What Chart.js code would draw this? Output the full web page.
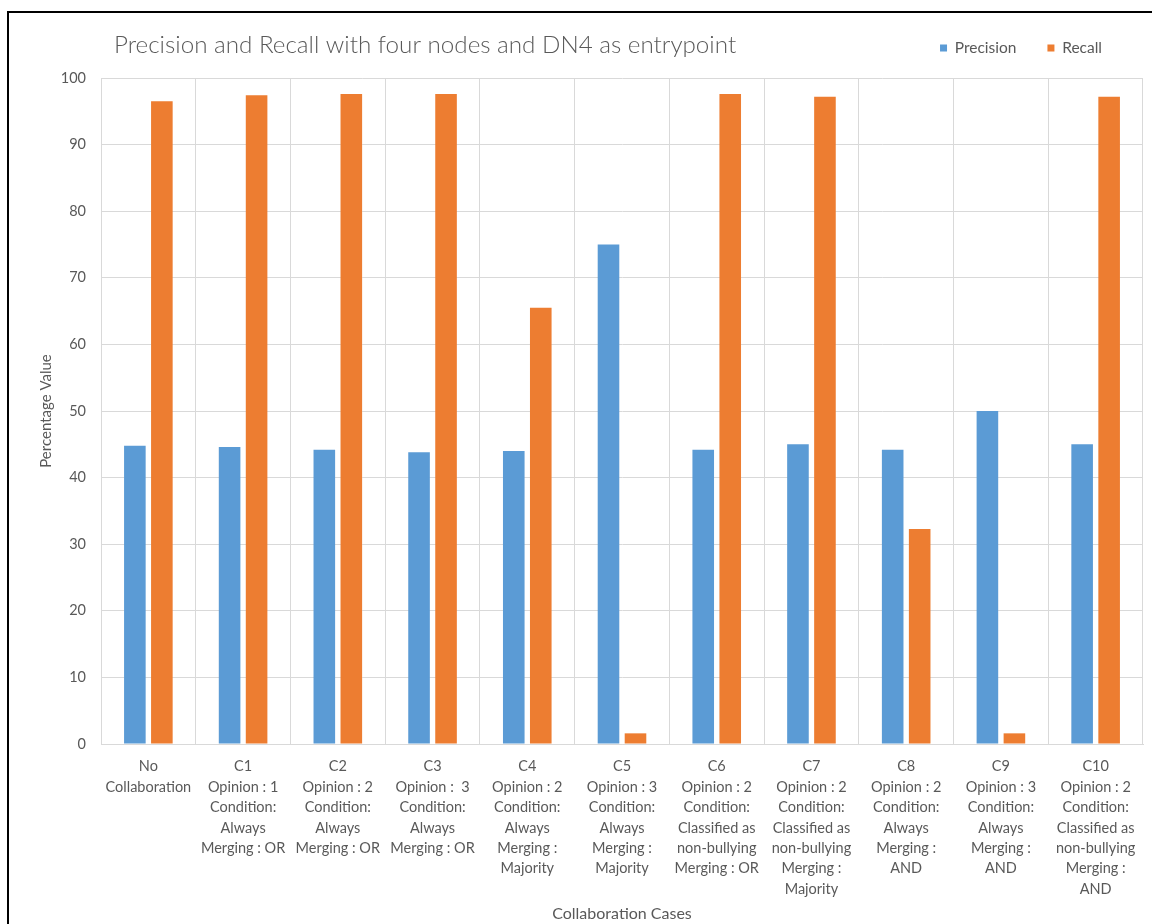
<!DOCTYPE html>
<html>
<head>
<meta charset="utf-8">
<script src="https://cdn.jsdelivr.net/npm/chart.js@4/dist/chart.umd.min.js"></script>
<style>
  html, body { margin: 0; padding: 0; background: #fff; overflow: hidden; }
  #frame { position: absolute; left: 7px; top: 11px; width: 1300px; height: 1100px; border: 2px solid #000; background: #fff; }
  #c { position: absolute; left: 0; top: 0; }
</style>
</head>
<body>
<div id="frame"></div>
<canvas id="c" width="1152" height="924"></canvas>
<script>
const chartTitle = "Precision and Recall with four nodes and DN4 as entrypoint";
const seriesNames = ["Precision", "Recall"];
const categories = [
  ["No", "Collaboration"],
  ["C1", "Opinion : 1", "Condition:", "Always", "Merging : OR"],
  ["C2", "Opinion : 2", "Condition:", "Always", "Merging : OR"],
  ["C3", "Opinion :  3", "Condition:", "Always", "Merging : OR"],
  ["C4", "Opinion : 2", "Condition:", "Always", "Merging :", "Majority"],
  ["C5", "Opinion : 3", "Condition:", "Always", "Merging :", "Majority"],
  ["C6", "Opinion : 2", "Condition:", "Classified as", "non-bullying", "Merging : OR"],
  ["C7", "Opinion : 2", "Condition:", "Classified as", "non-bullying", "Merging :", "Majority"],
  ["C8", "Opinion : 2", "Condition:", "Always", "Merging :", "AND"],
  ["C9", "Opinion : 3", "Condition:", "Always", "Merging :", "AND"],
  ["C10", "Opinion : 2", "Condition:", "Classified as", "non-bullying", "Merging :", "AND"]
];
const precision = [44.8, 44.6, 44.2, 43.8, 44.0, 75.0, 44.2, 45.0, 44.2, 50.0, 45.0];
const recall    = [96.5, 97.4, 97.6, 97.6, 65.5, 1.6, 97.6, 97.2, 32.3, 1.6, 97.2];
const yTicks = [0, 10, 20, 30, 40, 50, 60, 70, 80, 90, 100];
const xAxisTitle = "Collaboration Cases";
const yAxisTitle = "Percentage Value";

const FONT = "Lato";
const TEXT = "#595959";
const GRID = "#D9D9D9";

const titlePlugin = {
  id: 'titleText',
  afterDraw(chart) {
    const ctx = chart.ctx;
    ctx.save();
    ctx.font = '300 24.2px "' + FONT + '"';
    ctx.fillStyle = TEXT;
    ctx.textAlign = 'left';
    ctx.textBaseline = 'middle';
    ctx.fillText(chartTitle, 114, 45);
    ctx.restore();
  }
};

const legendFit = {
  id: 'legendFit',
  beforeLayout(chart) {
    const lg = chart.legend;
    if (lg && !lg._patched) {
      const orig = lg.fit;
      lg.fit = function () { orig.call(this); if (this.options.display) this.height = 68.75; };
      lg._patched = true;
    }
  },
  afterLayout(chart) {
    if (chart.legend) chart.legend.right = chart.width - 19;
  }
};

new Chart(document.getElementById('c'), {
  type: 'bar',
  data: {
    labels: categories,
    datasets: [
      { label: seriesNames[0], data: precision, backgroundColor: '#5B9BD5', borderWidth: 0 },
      { label: seriesNames[1], data: recall, backgroundColor: '#ED7D31', borderWidth: 0 }
    ]
  },
  options: {
    responsive: false,
    animation: false,
    devicePixelRatio: 1,
    layout: { padding: { top: 9.25, left: 0, right: 9, bottom: 0 } },
    datasets: { bar: { categoryPercentage: 0.57, barPercentage: 0.8 } },
    plugins: {
      title: { display: false },
      tooltip: { enabled: false },
      legend: {
        display: true,
        position: 'top',
        align: 'end',
        labels: {
          boxWidth: 7,
          boxHeight: 7,
          padding: 31,
          color: TEXT,
          font: { family: FONT, size: 15.5, lineHeight: 1 }
        }
      }
    },
    scales: {
      x: {
        grid: { color: GRID, lineWidth: 1, drawTicks: false, offset: true },
        border: { color: GRID, width: 1 },
        ticks: {
          color: TEXT,
          font: { family: FONT, size: 14.5, lineHeight: 1.407 },
          padding: 12.5,
          maxRotation: 0,
          minRotation: 0,
          autoSkip: false
        },
        title: {
          display: true,
          text: xAxisTitle,
          color: TEXT,
          font: { family: FONT, size: 16 },
          padding: { top: 0, bottom: 1 }
        },
        afterFit(scale) { scale.height = 180; }
      },
      y: {
        min: 0,
        max: 100,
        afterBuildTicks(scale) { scale.ticks = yTicks.map(v => ({ value: v })); },
        grid: { color: GRID, lineWidth: 1, drawTicks: false },
        border: { color: GRID, width: 1 },
        ticks: {
          color: TEXT,
          font: { family: FONT, size: 14.5 },
          padding: 15
        },
        title: {
          display: true,
          text: yAxisTitle,
          color: TEXT,
          font: { family: FONT, size: 15 },
          padding: { top: 37, bottom: 0 }
        },
        afterFit(scale) { scale.width = 101; }
      }
    }
  },
  plugins: [titlePlugin, legendFit]
});
</script>
</body>
</html>
